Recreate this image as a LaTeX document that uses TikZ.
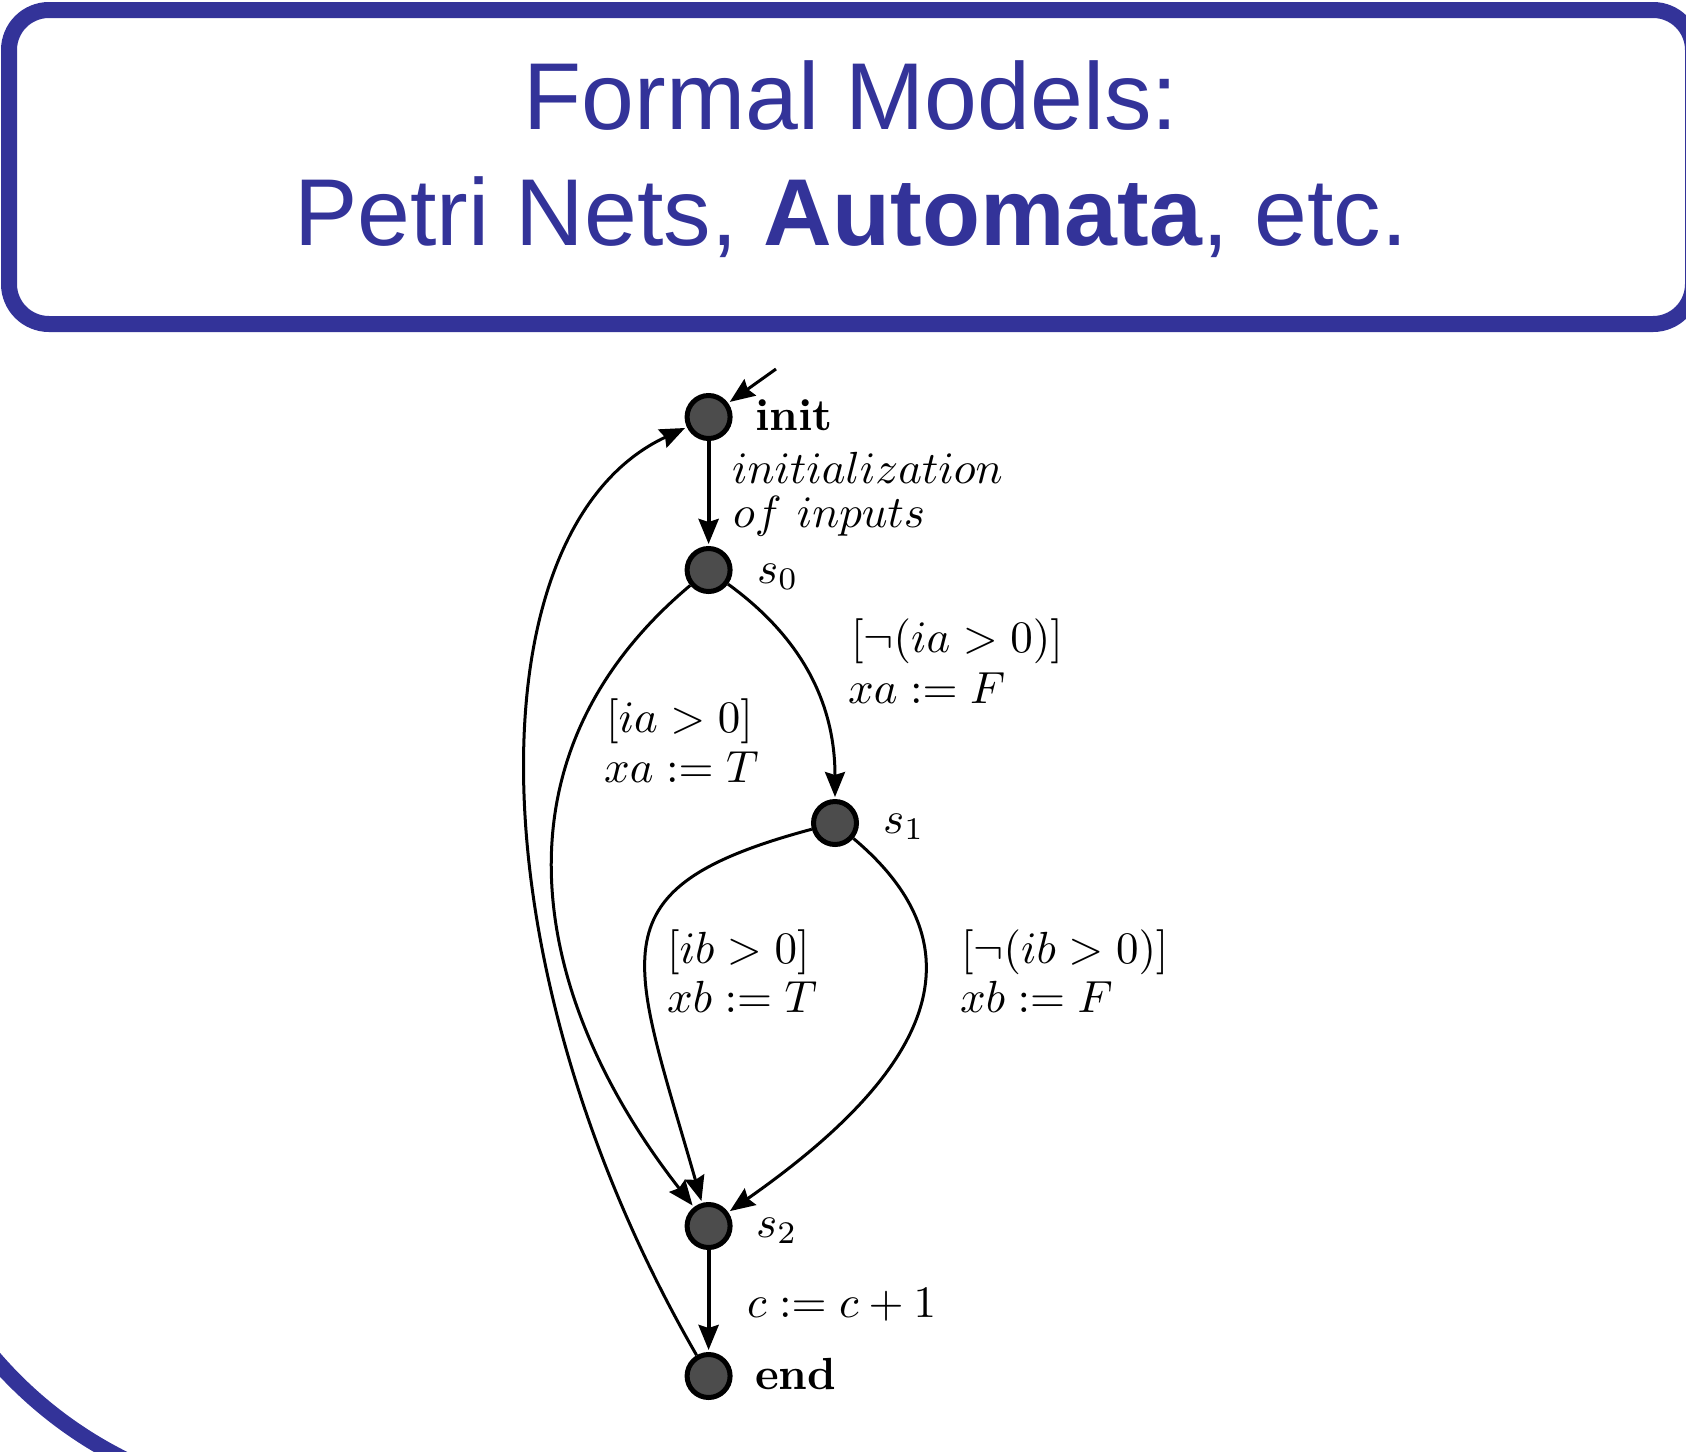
\documentclass[tikz,border=0pt]{standalone}
\usepackage{graphicx}
\usepackage{fontspec}
\newfontfamily\titlefont{Liberation Sans}
\usetikzlibrary{arrows.meta}
\definecolor{titleblue}{RGB}{51,51,153}
\newcommand{\Lbig}[1]{\scalebox{4.5}{#1}}
\begin{document}
\begin{tikzpicture}[x=1pt,y=1pt,
  st/.style={circle, draw=black, line width=5pt, fill=black!70, minimum size=43pt, inner sep=0pt},
  lbl/.style={anchor=base west, inner sep=0pt},
  ttl/.style={font=\titlefont\fontsize{95}{114}\selectfont, text=titleblue, anchor=base, inner sep=0pt},
  edge/.style={line width=3pt, shorten >=2pt, -{Stealth[length=25pt,width=20pt,inset=3pt]}},
  sedge/.style={edge, line width=4pt}]
\useasboundingbox (0,0) rectangle (1686,-1451);
\clip (0,0) rectangle (1686,-1451);
% title box
\draw[titleblue, line width=16pt, rounded corners=40pt] (9,-10) rectangle (1693,-324);
\node[ttl] (t1) at (851,-129) {Formal Models:};
\node[ttl] (t2) at (851,-245) {Petri Nets, \textbf{Automata}, etc.};
% partial frame at bottom left
\draw[titleblue, line width=16pt] (310,-1086) ++(215:417) arc[start angle=215, end angle=252, radius=417];
% states
\node[st] (init) at (708.6,-417) {};
\node[st] (s0) at (708.6,-570) {};
\node[st] (s1) at (835,-823) {};
\node[st] (s2) at (708.6,-1226) {};
\node[st] (end) at (708.6,-1376) {};
% state labels
\node[lbl] (linit) at (755,-430) {\Lbig{\textbf{init}}};
\node[lbl] (ls0) at (757,-583) {\Lbig{$s_0$}};
\node[lbl] (ls1) at (883,-833) {\Lbig{$s_1$}};
\node[lbl] (ls2) at (756,-1237) {\Lbig{$s_2$}};
\node[lbl] (lend) at (755,-1389) {\Lbig{\textbf{end}}};
% edge labels
\node[lbl] (e1a) at (732,-483) {\Lbig{$initialization$}};
\node[lbl] (e1b) at (733,-527) {\Lbig{$of\ inputs$}};
\node[lbl] (e2a) at (851,-652) {\Lbig{$[\neg(ia>0)]$}};
\node[lbl] (e2b) at (848,-703) {\Lbig{$xa := F$}};
\node[lbl] (e3a) at (606,-732) {\Lbig{$[ia>0]$}};
\node[lbl] (e3b) at (604,-782) {\Lbig{$xa := T$}};
\node[lbl] (e4a) at (667,-963) {\Lbig{$[ib>0]$}};
\node[lbl] (e4b) at (667,-1012) {\Lbig{$xb := T$}};
\node[lbl] (e5a) at (961,-963) {\Lbig{$[\neg(ib>0)]$}};
\node[lbl] (e5b) at (960,-1012) {\Lbig{$xb := F$}};
\node[lbl] (e6) at (747,-1317) {\Lbig{$c := c+1$}};
% edges
\coordinate (start) at (776,-369);
\draw[edge] (start) -- (init);
\draw[sedge] (init) -- (s0);
\draw[sedge] (s2) -- (end);
\draw[edge] (s0) to[out=-36, in=90, looseness=1] (s1);
\draw[edge] (s0) to[out=-140, in=128, looseness=1.1] (s2);
\draw[edge] (s1) to[out=195, in=106, out looseness=1.5, in looseness=1.7] (s2);
\draw[edge] (s1) to[out=-40, in=35, looseness=1.3] (s2);
\draw[edge] (end) to[out=120, in=205, out looseness=1.25, in looseness=0.65] (init);
\end{tikzpicture}
\end{document}
